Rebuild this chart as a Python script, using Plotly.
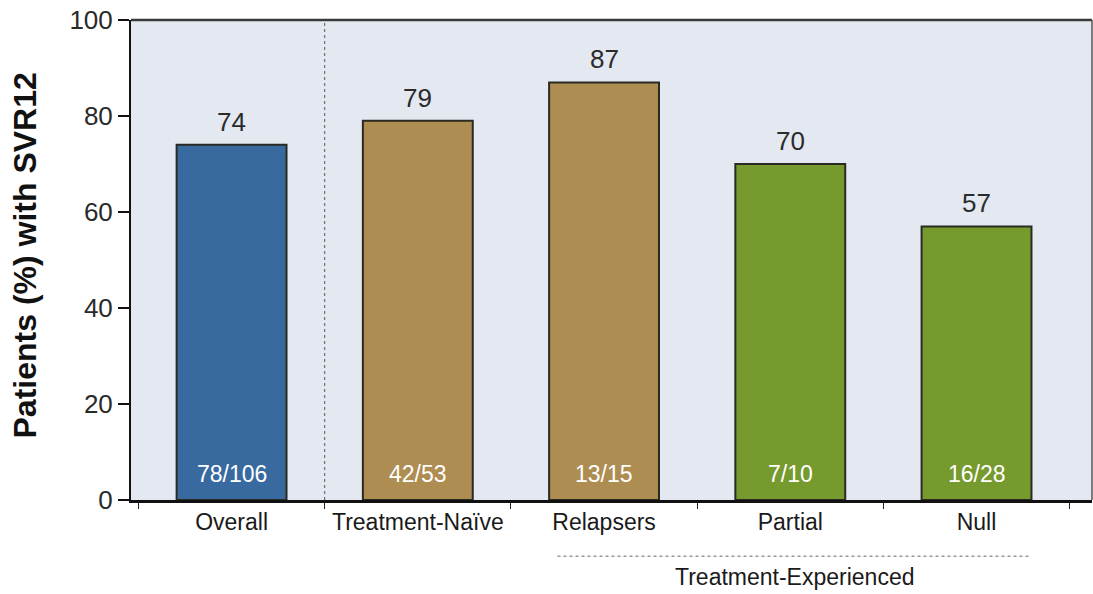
import plotly.graph_objects as go

categories = ["Overall", "Treatment-Naïve", "Relapsers", "Partial", "Null"]
svr_pct = [74, 79, 87, 70, 57]
counts = ["78/106", "42/53", "13/15", "7/10", "16/28"]
bar_colors = ["#386A9F", "#AE8D52", "#AE8D52", "#779A2E", "#779A2E"]
group_label = "Treatment-Experienced"
group_members = ["Relapsers", "Partial", "Null"]
y_ticks = [0, 20, 40, 60, 80, 100]

FONT = "Liberation Sans, Arial, sans-serif"

fig = go.Figure()
fig.add_trace(go.Bar(
    x=categories, y=svr_pct, width=0.59,
    marker=dict(color=bar_colors, line=dict(color="#2a2a22", width=2)),
    hoverinfo="skip",
))

ann = []
for c, v, n in zip(categories, svr_pct, counts):
    ann.append(dict(x=c, y=v, text=str(v), showarrow=False, yanchor="bottom",
                    yshift=6, font=dict(family=FONT, size=26, color="#2b2b2b")))
    ann.append(dict(x=c, y=0, text=n, showarrow=False, yanchor="bottom",
                    yshift=11, font=dict(family=FONT, size=23, color="#ffffff")))

g_first = categories.index(group_members[0])
g_last = categories.index(group_members[-1])
ann.append(dict(x=(g_first + g_last) / 2 + 0.02, xref="x", y=-0.16, yref="paper", text=group_label,
                showarrow=False, font=dict(family=FONT, size=23, color="#1a1a1a"), yanchor="middle"))
ann.append(dict(x=-0.11, xref="paper", y=0.51, yref="paper", text="<b>Patients (%) with SVR12</b>",
                textangle=-90, showarrow=False, xanchor="center", yanchor="middle",
                font=dict(family=FONT, size=32, color="#111111")))

shapes = [
    # dashed divider between Overall and the rest
    dict(type="line", xref="x", yref="paper", x0=0.5, x1=0.5, y0=0, y1=1,
         line=dict(color="#555555", width=1, dash="dot")),
    # top and right frame
    dict(type="line", xref="paper", yref="paper", x0=0, x1=1, y0=1, y1=1,
         line=dict(color="#3a3a3a", width=2.5)),
    dict(type="line", xref="paper", yref="paper", x0=1, x1=1, y0=0, y1=1,
         line=dict(color="#555555", width=1.5)),
    # group underline
    dict(type="line", xref="x", yref="paper", x0=g_first - 0.25, x1=g_last + 0.29, y0=-0.117, y1=-0.117,
         line=dict(color="#999999", width=1.5, dash="dot")),
]

fig.update_layout(
    width=1093, height=594,
    margin=dict(l=131, r=1, t=20, b=94, autoexpand=False),
    paper_bgcolor="white",
    plot_bgcolor="#E3E8F1",
    showlegend=False,
    annotations=ann,
    shapes=shapes,
    font=dict(family=FONT),
)
fig.update_xaxes(
    type="category", range=[-0.54, 4.62], automargin=False,
    tickson="boundaries", ticks="outside", ticklen=6, tickcolor="#222222",
    showline=True, linecolor="#111111", linewidth=2.5,
    showgrid=False, zeroline=False,
    tickfont=dict(family=FONT, size=23, color="#1a1a1a"),
)
fig.update_yaxes(
    range=[0, 100], tickvals=y_ticks, ticks="outside", ticklen=11, tickwidth=2,
    tickcolor="#111111", showline=True, linecolor="#111111", linewidth=2,
    showgrid=False, zeroline=False, automargin=False,
    tickfont=dict(family=FONT, size=26, color="#2a2a2a"),
)

fig.write_html("out.html", config={"displayModeBar": False},
               post_script="document.body.style.margin='0';document.body.style.overflow='hidden';")
